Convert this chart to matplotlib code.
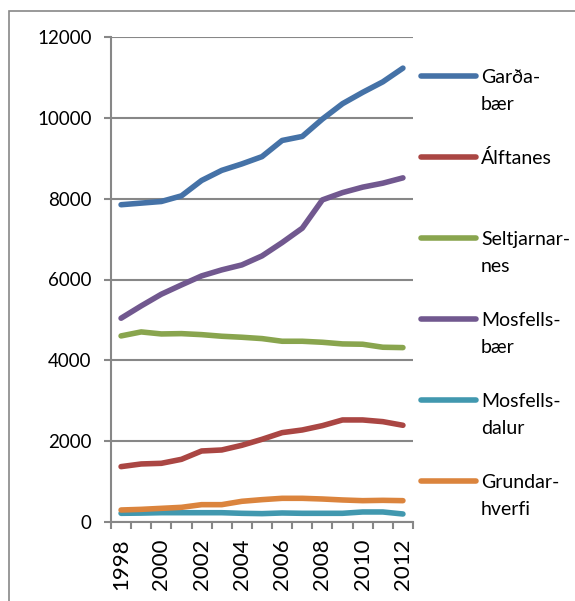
import matplotlib.pyplot as plt
from matplotlib.lines import Line2D
from matplotlib.patches import Rectangle

years = list(range(1998, 2013))
labels = ["Garða-\nbær", "Álftanes", "Seltjarnar-\nnes", "Mosfells-\nbær", "Mosfells-\ndalur", "Grundar-\nhverfi"]

gardabaer = [7850, 7890, 7930, 8070, 8450, 8700, 8860, 9040, 9440, 9540, 9970, 10350, 10630, 10890, 11230]
alftanes = [1370, 1436, 1452, 1551, 1757, 1782, 1898, 2046, 2211, 2277, 2384, 2525, 2525, 2483, 2393]
seltjarnarnes = [4604, 4703, 4653, 4661, 4636, 4596, 4571, 4538, 4472, 4472, 4447, 4406, 4398, 4324, 4315]
mosfellsbaer = [5042, 5347, 5636, 5866, 6089, 6238, 6361, 6584, 6914, 7270, 7970, 8150, 8285, 8383, 8515]
mosfellsdalur = [215, 220, 230, 230, 230, 230, 215, 207, 223, 215, 215, 215, 248, 248, 198]
grundarhverfi = [297, 313, 338, 363, 429, 429, 512, 553, 586, 586, 569, 545, 528, 536, 528]

series = [gardabaer, alftanes, seltjarnarnes, mosfellsbaer, mosfellsdalur, grundarhverfi]
colors = ["#4572A7", "#AA4643", "#89A54E", "#71588F", "#4198AF", "#DB843D"]

plt.rcParams['font.family'] = ['Lato', 'DejaVu Sans']

W, H = 575, 601
fig = plt.figure(figsize=(W / 100, H / 100), dpi=100)
ax = fig.add_axes([111 / W, 1 - 522 / H, (413 - 111) / W, (522 - 37) / H])

x = list(range(len(years)))
for vals, c in zip(series, colors):
    ax.plot(x, vals, color=c, lw=4, solid_capstyle='round', solid_joinstyle='round', zorder=3)

ax.set_xlim(-0.5, len(years) - 0.5)
ax.set_ylim(0, 12000)
ax.set_yticks(range(0, 12001, 2000))
ax.grid(axis='y', color='#878787', lw=1.5)
ax.set_axisbelow(True)

ax.set_xticks(x[::2])
ax.set_xticklabels([str(y) for y in years[::2]], rotation=90, fontsize=16)
ax.set_xticks([i - 0.5 for i in range(len(years) + 1)], minor=True)
ax.tick_params(axis='x', which='major', length=0, pad=12)
ax.tick_params(axis='x', which='minor', length=5, width=1.5, color='#878787', direction='out')
ax.tick_params(axis='y', length=5, width=1.5, color='#878787', pad=9, labelsize=13.5)

for s in ['top', 'right']:
    ax.spines[s].set_visible(False)
for s in ['left', 'bottom']:
    ax.spines[s].set_color('#878787')
    ax.spines[s].set_linewidth(1.5)

# legend drawn by hand to keep the even spacing
leg_y = [76, 157, 238, 319, 400, 481]
for ly, lab, c in zip(leg_y, labels, colors):
    yf = 1 - ly / H
    fig.add_artist(Line2D([421 / W, 476 / W], [yf, yf], color=c, lw=4, solid_capstyle='round'))
    for i, part in enumerate(lab.split("\n")):
        fig.text(481 / W, 1 - (ly + 7 + 27 * i) / H, part, fontsize=14, va='baseline', ha='left')

# outer frame
fig.add_artist(Rectangle((9 / W, -0.05), 1.2, 1 - 11 / H + 0.05, transform=fig.transFigure,
                         fill=False, edgecolor='#878787', lw=1.2))

fig.savefig('out.png', dpi=100)
